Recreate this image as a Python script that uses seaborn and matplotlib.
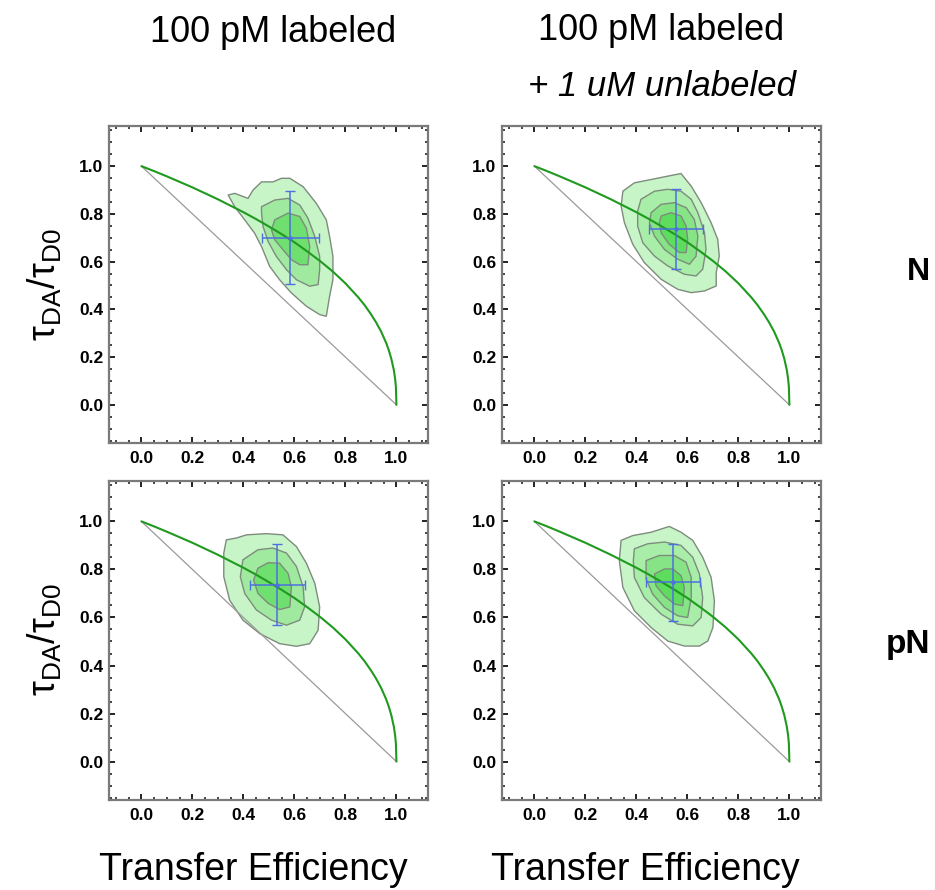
import matplotlib
matplotlib.use("Agg")
import matplotlib.pyplot as plt
import seaborn as sns
from matplotlib.ticker import MultipleLocator, FormatStrFormatter

sns.set_theme(style="ticks")
plt.rcParams["font.family"] = ["Liberation Sans", "DejaVu Sans"]
plt.rcParams["mathtext.fontset"] = "custom"
plt.rcParams["mathtext.rm"] = "Liberation Sans"
plt.rcParams["mathtext.it"] = "Liberation Sans:italic"
plt.rcParams["text.color"] = "black"
plt.rcParams["xtick.color"] = "black"
plt.rcParams["ytick.color"] = "black"
plt.rcParams["xtick.labelcolor"] = "black"
plt.rcParams["ytick.labelcolor"] = "black"

# ---------------------------------------------------------------- labels
col_titles = ["100 pM labeled", "100 pM labeled"]
col_subtitles = ["", "+ 1 uM unlabeled"]
row_labels = ["N", "pN"]
x_label = "Transfer Efficiency"
y_label = r"$\mathregular{τ_{DA}/τ_{D0}}$"
tick_values = [0.0, 0.2, 0.4, 0.6, 0.8, 1.0]

# ---------------------------------------------------------------- reference lines
static_E = [0.0, 1.0]
static_T = [1.0, 0.0]

dyn_E = [0.0, 0.05, 0.10, 0.15, 0.20, 0.25, 0.30, 0.35, 0.40, 0.45, 0.50,
         0.55, 0.60, 0.65, 0.70, 0.75, 0.80, 0.85, 0.875, 0.90, 0.92, 0.94,
         0.96, 0.97, 0.98, 0.99, 0.995, 0.998, 1.0]
dyn_T = [1.0, 0.979, 0.957, 0.934, 0.911, 0.886, 0.861, 0.834, 0.807, 0.778,
         0.747, 0.715, 0.681, 0.643, 0.603, 0.559, 0.509, 0.451, 0.418, 0.380,
         0.346, 0.307, 0.259, 0.229, 0.193, 0.145, 0.108, 0.074, 0.0]

# ---------------------------------------------------------------- contour levels (E, tau ratio)
n_lab_c1 = [(0.340, 0.879), (0.366, 0.886), (0.418, 0.865), (0.438, 0.900),
            (0.471, 0.934), (0.516, 0.934), (0.549, 0.949), (0.582, 0.949),
            (0.634, 0.914), (0.686, 0.844), (0.725, 0.775), (0.738, 0.705),
            (0.751, 0.622), (0.751, 0.524), (0.738, 0.455), (0.725, 0.371),
            (0.699, 0.378), (0.647, 0.413), (0.588, 0.469), (0.542, 0.524),
            (0.503, 0.580), (0.471, 0.663), (0.444, 0.719), (0.405, 0.775),
            (0.366, 0.830)]
n_lab_c2 = [(0.471, 0.830), (0.523, 0.858), (0.575, 0.865), (0.621, 0.837),
            (0.653, 0.782), (0.680, 0.705), (0.699, 0.622), (0.699, 0.566),
            (0.693, 0.504), (0.660, 0.497), (0.608, 0.524), (0.569, 0.566),
            (0.529, 0.622), (0.497, 0.684), (0.477, 0.747), (0.471, 0.803)]
n_lab_c3 = [(0.523, 0.775), (0.575, 0.803), (0.621, 0.789), (0.647, 0.740),
            (0.660, 0.663), (0.653, 0.587), (0.621, 0.587), (0.588, 0.608),
            (0.555, 0.650), (0.523, 0.691), (0.510, 0.733)]

n_unl_c1 = [(0.347, 0.895), (0.392, 0.930), (0.458, 0.944), (0.523, 0.958),
            (0.575, 0.969), (0.615, 0.916), (0.654, 0.847), (0.693, 0.763),
            (0.719, 0.693), (0.725, 0.623), (0.713, 0.554), (0.713, 0.498),
            (0.667, 0.477), (0.615, 0.470), (0.562, 0.484), (0.497, 0.526),
            (0.431, 0.596), (0.386, 0.672), (0.353, 0.763), (0.340, 0.833)]
n_unl_c2 = [(0.418, 0.861), (0.471, 0.895), (0.523, 0.903), (0.575, 0.895),
            (0.615, 0.861), (0.641, 0.805), (0.667, 0.721), (0.673, 0.651),
            (0.660, 0.568), (0.634, 0.540), (0.588, 0.547), (0.523, 0.582),
            (0.471, 0.623), (0.425, 0.679), (0.405, 0.749), (0.405, 0.812)]
n_unl_c3 = [(0.458, 0.805), (0.497, 0.840), (0.549, 0.847), (0.595, 0.826),
            (0.627, 0.777), (0.641, 0.707), (0.634, 0.623), (0.608, 0.589),
            (0.562, 0.610), (0.510, 0.651), (0.471, 0.707), (0.451, 0.763)]
n_unl_c4 = [(0.497, 0.791), (0.536, 0.805), (0.575, 0.791), (0.595, 0.749),
            (0.601, 0.693), (0.595, 0.638), (0.569, 0.638), (0.529, 0.672),
            (0.497, 0.721), (0.490, 0.763)]

pn_lab_c1 = [(0.333, 0.923), (0.373, 0.931), (0.412, 0.944), (0.490, 0.949),
             (0.555, 0.944), (0.608, 0.895), (0.647, 0.826), (0.680, 0.742),
             (0.699, 0.644), (0.693, 0.547), (0.660, 0.491), (0.608, 0.480),
             (0.542, 0.491), (0.464, 0.533), (0.398, 0.589), (0.346, 0.672),
             (0.323, 0.770), (0.323, 0.868)]
pn_lab_c2 = [(0.398, 0.840), (0.457, 0.882), (0.516, 0.889), (0.569, 0.868),
             (0.608, 0.812), (0.634, 0.728), (0.640, 0.644), (0.621, 0.589),
             (0.569, 0.568), (0.510, 0.589), (0.451, 0.631), (0.405, 0.700),
             (0.388, 0.770)]
pn_lab_c3 = [(0.457, 0.805), (0.497, 0.828), (0.542, 0.826), (0.575, 0.784),
             (0.588, 0.728), (0.582, 0.644), (0.542, 0.633), (0.497, 0.659),
             (0.457, 0.700), (0.440, 0.756)]

pn_unl_c1 = [(0.340, 0.921), (0.386, 0.941), (0.458, 0.955), (0.529, 0.979),
             (0.575, 0.955), (0.621, 0.921), (0.660, 0.851), (0.693, 0.767),
             (0.706, 0.669), (0.700, 0.558), (0.680, 0.502), (0.647, 0.481),
             (0.588, 0.481), (0.523, 0.502), (0.458, 0.558), (0.392, 0.628),
             (0.347, 0.725), (0.333, 0.837)]
pn_unl_c2 = [(0.392, 0.886), (0.445, 0.907), (0.510, 0.914), (0.575, 0.900),
             (0.621, 0.851), (0.647, 0.781), (0.660, 0.683), (0.654, 0.600),
             (0.621, 0.565), (0.562, 0.572), (0.497, 0.614), (0.431, 0.683),
             (0.392, 0.767), (0.388, 0.837)]
pn_unl_c3 = [(0.438, 0.837), (0.490, 0.858), (0.549, 0.858), (0.595, 0.830),
             (0.615, 0.767), (0.615, 0.683), (0.601, 0.600), (0.562, 0.607),
             (0.510, 0.642), (0.464, 0.697), (0.438, 0.760)]
pn_unl_c4 = [(0.471, 0.781), (0.510, 0.802), (0.543, 0.802), (0.575, 0.774),
             (0.588, 0.725), (0.582, 0.649), (0.549, 0.656), (0.510, 0.690),
             (0.477, 0.732)]

# ---------------------------------------------------------------- population mean +/- width
mean_E = [0.584, 0.556, 0.533, 0.543]
mean_T = [0.701, 0.736, 0.736, 0.747]
err_E = [0.111, 0.105, 0.108, 0.105]
err_T = [0.196, 0.168, 0.168, 0.160]

panel_contours = [
    [n_lab_c1, n_lab_c2, n_lab_c3],
    [n_unl_c1, n_unl_c2, n_unl_c3, n_unl_c4],
    [pn_lab_c1, pn_lab_c2, pn_lab_c3],
    [pn_unl_c1, pn_unl_c2, pn_unl_c3, pn_unl_c4],
]
fills3 = ["#c8f5c8", "#a0eaa0", "#6fe06f"]
fills4 = ["#c8f5c8", "#a8eea8", "#86e486", "#5edc5e"]

# ---------------------------------------------------------------- figure
fig = plt.figure(figsize=(9.35, 8.9), dpi=100)
fig.patch.set_facecolor("white")

axes_rects = [
    [0.1166, 0.5022, 0.3412, 0.3562],
    [0.5369, 0.5022, 0.3412, 0.3562],
    [0.1166, 0.1011, 0.3412, 0.3584],
    [0.5369, 0.1011, 0.3412, 0.3584],
]

for i, rect in enumerate(axes_rects):
    ax = fig.add_axes(rect)
    ax.set_facecolor("white")
    levels = panel_contours[i]
    colors = fills3 if len(levels) == 3 else fills4
    for poly, col in zip(levels, colors):
        xs = [p[0] for p in poly]
        ys = [p[1] for p in poly]
        ax.fill(xs, ys, facecolor=col, edgecolor="#7d8c7d", linewidth=1.0, zorder=2)

    sns.lineplot(x=static_E, y=static_T, ax=ax, color="#9a9a9a", linewidth=0.9,
                 estimator=None, sort=False, zorder=3)
    sns.lineplot(x=dyn_E, y=dyn_T, ax=ax, color="#1f9a1f", linewidth=1.5,
                 estimator=None, sort=False, zorder=4)

    ax.errorbar([mean_E[i]], [mean_T[i]], xerr=[err_E[i]], yerr=[err_T[i]],
                fmt="o", markersize=2.2, color="#4d6fe0", ecolor="#4d6fe0",
                elinewidth=1.1, capsize=3.5, capthick=1.0, zorder=5)

    ax.set_xlim(-0.127, 1.124)
    ax.set_ylim(-0.16, 1.168)
    ax.set_xticks(tick_values)
    ax.set_yticks(tick_values)
    ax.xaxis.set_major_formatter(FormatStrFormatter("%.1f"))
    ax.yaxis.set_major_formatter(FormatStrFormatter("%.1f"))
    ax.xaxis.set_minor_locator(MultipleLocator(0.05))
    ax.yaxis.set_minor_locator(MultipleLocator(0.05))
    ax.tick_params(which="both", direction="in", top=True, right=True,
                   color="#111111")
    ax.tick_params(which="major", length=4.0, width=1.3, labelsize=12.5)
    ax.tick_params(axis="x", which="major", pad=6)
    ax.tick_params(axis="y", which="major", pad=4)
    ax.tick_params(which="minor", length=2.2, width=1.1)
    for lab in ax.get_xticklabels() + ax.get_yticklabels():
        lab.set_fontweight("bold")
        lab.set_color("black")
    for side in ax.spines.values():
        side.set_color("#7a7a7a")
        side.set_linewidth(1.6)
        side.set_visible(True)
    ax.set_xlabel("")
    ax.set_ylabel("")

# column headers
fig.text(273 / 935, 1 - 33 / 890, col_titles[0], ha="center", va="center", fontsize=26)
fig.text(661 / 935, 1 - 30 / 890, col_titles[1], ha="center", va="center", fontsize=26)
fig.text(662 / 935, 1 - 87 / 890, col_subtitles[1], ha="center", va="center",
         fontsize=25, style="italic")

# row labels
fig.text(918 / 935, 1 - 272 / 890, row_labels[0], ha="center", va="center",
         fontsize=23, fontweight="bold")
fig.text(908 / 935, 1 - 645 / 890, row_labels[1], ha="center", va="center",
         fontsize=24, fontweight="bold")

# axis titles
for yc in (285, 640):
    fig.text(45 / 935, 1 - yc / 890, y_label, ha="center", va="center",
             rotation=90, fontsize=27)
for xc in (253, 645):
    fig.text(xc / 935, 1 - 870 / 890, x_label, ha="center", va="center", fontsize=27)

fig.savefig("out.png", dpi=100, facecolor="white")
